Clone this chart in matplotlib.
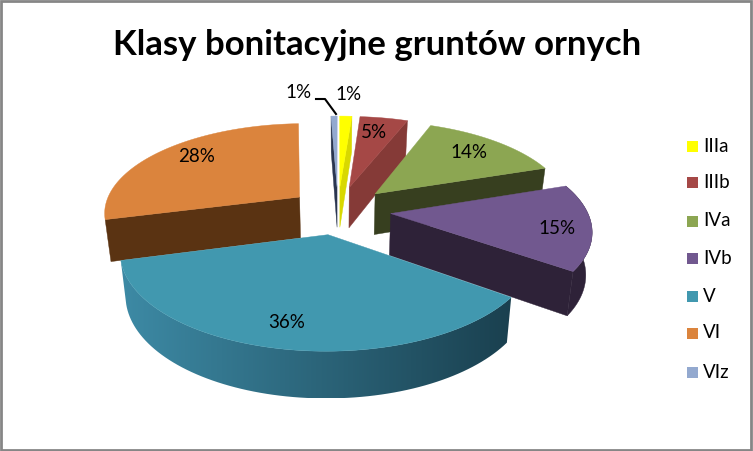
import numpy as np
import matplotlib
matplotlib.use('Agg')
import matplotlib.pyplot as plt
from matplotlib.colors import to_rgb
from matplotlib.patches import Polygon, Rectangle

plt.rcParams['font.family'] = ['Lato', 'DejaVu Sans']

# dane
labels = ['IIIa', 'IIIb', 'IVa', 'IVb', 'V', 'VI', 'VIz']
values = [1.2, 4.7, 13.9, 15.1, 36.0, 28.5, 0.6]
pct_labels = ['1%', '5%', '14%', '15%', '36%', '28%', '1%']
colors = ['#FFFF00', '#A54846', '#8CA652', '#71588F', '#4198AF', '#DB843D', '#93A9CF']
wall_colors = ['#D8D800', '#853A37', '#373F1F', '#2E2238', '#4198AF', '#5A3312', '#2A3650']

# rzut perspektywiczny
XC, YC = 338, 210
RX, RY = 196, 89
PERSP = 0.16
EXPLODE = [0.27, 0.27, 0.27, 0.27, 0.27, 0.25, 0.27]
SHRINK = 0.975


def top(u, v):
    p = 1 / (1 + PERSP * v)
    return XC + RX * u * p, YC - RY * v * p


def bottom(u, v):
    x, y = top(u, v)
    return XC + (x - XC) * SHRINK, y + 41.5 - 4.5 * v


fig = plt.figure(figsize=(7.53, 4.51), dpi=100)
ax = fig.add_axes([0, 0, 1, 1])
ax.axis('off')

ax.add_patch(Rectangle((1, 1), 750, 448.5, fc='white', ec='#868686', lw=2))

# katy wycinkow
edges = np.cumsum([0] + values) / sum(values) * 2 * np.pi
slices = {}
for i in range(len(values)):
    a0, a1 = edges[i], edges[i + 1]
    mid = (a0 + a1) / 2
    ou, ov = EXPLODE[i] * np.sin(mid), EXPLODE[i] * np.cos(mid)
    t = np.linspace(a0, a1, 80)
    slices[i] = (ou, ov, ou + np.sin(t), ov + np.cos(t))


def cut_wall(i, ang):
    ou, ov, us, vs = slices[i]
    eu, ev = ou + np.sin(ang), ov + np.cos(ang)
    pts = [top(ou, ov), top(eu, ev), bottom(eu, ev), bottom(ou, ov)]
    ax.add_patch(Polygon(pts, fc=wall_colors[i], ec=wall_colors[i], lw=0.3))


def wall_outline(i):
    ou, ov, us, vs = slices[i]
    upper = [top(u, v) for u, v in zip(us, vs)]
    lower = [bottom(u, v) for u, v in zip(us, vs)]
    return upper + lower[::-1]


def top_face(i):
    ou, ov, us, vs = slices[i]
    pts = [top(ou, ov)] + [top(u, v) for u, v in zip(us, vs)]
    ax.add_patch(Polygon(pts, fc=colors[i], ec=colors[i], lw=0.3))


# od tylu do przodu
for i, ang in [(6, edges[6]), (0, edges[1]), (1, edges[2]), (2, edges[3])]:
    cut_wall(i, ang)
    top_face(i)

cut_wall(5, edges[5])
top_face(5)

cut_wall(3, edges[4])
ax.add_patch(Polygon(wall_outline(3), fc=wall_colors[3], ec=wall_colors[3], lw=0.3))
top_face(3)

# gradient na scianie V: jasniejszy z lewej, ciemny z prawej
outline = np.array(wall_outline(4))
c_left = np.array(to_rgb('#3D8AA5'))
c_right = np.array(to_rgb('#1A404F'))
grad = np.linspace(0, 1, 256)[None, :, None]
img = ax.imshow(c_left + (c_right - c_left) * grad, aspect='auto', zorder=1,
                extent=(outline[:, 0].min(), outline[:, 0].max(),
                        outline[:, 1].max(), outline[:, 1].min()))
clip = Polygon(outline, fc='none', ec='none', transform=ax.transData)
ax.add_patch(clip)
img.set_clip_path(clip)
top_face(4)

# etykiety procentowe
pct_pos = [(349, 95), (374, 132), (469, 152), (557, 228), (287, 322), (197, 157), (299, 93)]
for s, (x, y) in zip(pct_labels, pct_pos):
    ax.text(x, y, s, ha='center', va='center', fontsize=13.5, color='black')

# linia odniesienia
ax.plot([316, 325, 336], [99, 99, 114], color='black', lw=1.5)

ax.text(377, 45, 'Klasy bonitacyjne gruntów ornych', ha='center', va='center',
        fontsize=25, fontweight='bold', color='black')

# legenda
leg_y = [146, 182, 221, 258, 296, 333, 372]
for lab, col, y in zip(labels, colors, leg_y):
    ax.add_patch(Rectangle((687, y - 5.5), 11, 11, fc=col, ec='none'))
    ax.text(703, y, lab, ha='left', va='center', fontsize=13.5, color='black')

ax.set_xlim(0, 753)
ax.set_ylim(451, 0)
fig.savefig('out.png', dpi=100)
